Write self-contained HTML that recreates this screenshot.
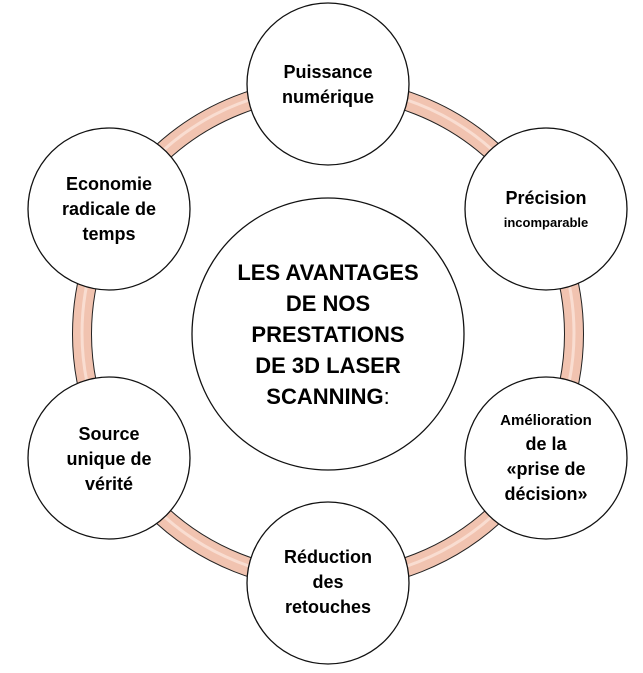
<!DOCTYPE html>
<html><head><meta charset="utf-8"><style>
html,body{margin:0;padding:0;background:#fff;}
svg text{font-family:"Liberation Sans",sans-serif;font-weight:bold;fill:#000;text-anchor:middle;}
</style></head><body>
<svg width="643" height="668" viewBox="0 0 643 668" xmlns="http://www.w3.org/2000/svg">
<circle cx="328" cy="334" r="246" fill="none" stroke="#222" stroke-width="20"/>
<circle cx="328" cy="334" r="246" fill="none" stroke="#f1c3b0" stroke-width="18"/>
<circle cx="328" cy="333" r="246" fill="none" stroke="#fbe4da" stroke-width="3" opacity="0.8"/>
<g fill="#fff" stroke="#111" stroke-width="1.3">
<circle cx="328" cy="84" r="81"/>
<circle cx="109" cy="209" r="81"/>
<circle cx="546" cy="209" r="81"/>
<circle cx="109" cy="458" r="81"/>
<circle cx="546" cy="458" r="81"/>
<circle cx="328" cy="583" r="81"/>
<circle cx="328" cy="334" r="136"/>
</g>
<g font-size="18">
<text x="328" y="78">Puissance</text>
<text x="328" y="103">numérique</text>
<text x="109" y="190">Economie</text>
<text x="109" y="215">radicale de</text>
<text x="109" y="240">temps</text>
<text x="546" y="204">Précision</text>
<text x="546" y="227" font-size="13">incomparable</text>
<text x="109" y="440">Source</text>
<text x="109" y="465">unique de</text>
<text x="109" y="490">vérité</text>
<text x="546" y="425" font-size="15">Amélioration</text>
<text x="546" y="450">de la</text>
<text x="546" y="475">«prise de</text>
<text x="546" y="500">décision»</text>
<text x="328" y="563">Réduction</text>
<text x="328" y="588">des</text>
<text x="328" y="613">retouches</text>
</g>
<g font-size="22">
<text x="328" y="280">LES AVANTAGES</text>
<text x="328" y="311">DE NOS</text>
<text x="328" y="342">PRESTATIONS</text>
<text x="328" y="373">DE  3D LASER</text>
<text x="328" y="404">SCANNING<tspan font-weight="normal">:</tspan></text>
</g>
</svg>
</body></html>
